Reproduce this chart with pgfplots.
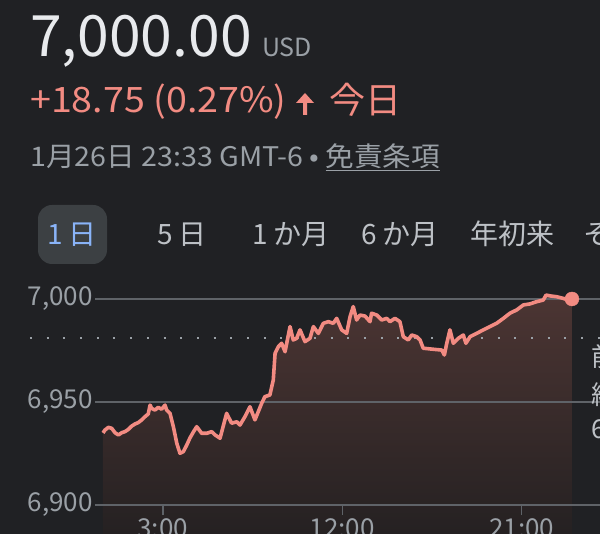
\documentclass[border=0pt]{standalone}
\usepackage{pgfplots}
\pgfplotsset{compat=1.18}
\usepackage{graphicx}
\usepackage{fontspec}
\setmainfont{Noto Sans CJK JP}

\definecolor{bg}{HTML}{202124}
\definecolor{txtwhite}{HTML}{E8EAED}
\definecolor{txtgrey}{HTML}{9AA0A6}
\definecolor{txtlight}{HTML}{BDC1C6}
\definecolor{salmon}{HTML}{F28B82}
\definecolor{tabblue}{HTML}{8AB4F8}
\definecolor{pill}{HTML}{3C4043}
\definecolor{gridc}{HTML}{5F6368}
\definecolor{fillTop}{HTML}{4C3533}
\definecolor{fillBot}{HTML}{252122}

\newcommand{\fs}[1]{\fontsize{#1}{#1}\selectfont}

% intraday prices, hours from 0:00
\pgfplotstableread{
t v
0.00 6935.0
0.10 6936.4
0.27 6937.7
0.44 6937.2
0.60 6935.1
0.77 6934.0
0.94 6935.1
1.10 6935.6
1.27 6936.7
1.44 6938.3
1.60 6939.3
1.77 6940.0
1.94 6941.3
2.11 6942.9
2.27 6944.2
2.36 6948.5
2.44 6946.9
2.61 6946.1
2.77 6947.4
2.94 6946.5
3.11 6948.5
3.19 6946.1
3.36 6944.5
3.53 6938.0
3.70 6930.0
3.86 6925.1
4.03 6925.9
4.20 6929.1
4.36 6932.5
4.53 6935.4
4.70 6938.0
4.95 6934.8
5.20 6934.8
5.45 6935.6
5.62 6934.0
5.87 6932.4
6.20 6944.5
6.45 6939.7
6.71 6940.4
6.87 6938.8
7.12 6942.9
7.37 6947.7
7.62 6941.3
7.96 6949.4
8.12 6952.6
8.37 6953.4
8.54 6960.7
8.63 6973.6
8.79 6976.8
8.96 6978.5
9.13 6974.4
9.38 6986.6
9.54 6980.1
9.71 6980.9
9.88 6985.0
10.13 6979.3
10.38 6980.9
10.55 6986.6
10.80 6983.3
11.05 6988.2
11.30 6989.0
11.55 6988.2
11.72 6990.6
11.97 6985.0
12.22 6983.3
12.39 6991.4
12.55 6996.3
12.72 6989.8
12.89 6992.2
13.14 6991.7
13.39 6989.0
13.47 6993.1
13.73 6992.2
13.98 6989.8
14.23 6990.6
14.39 6989.0
14.64 6990.6
14.89 6989.0
15.06 6981.7
15.31 6980.1
15.48 6982.5
15.73 6981.7
15.90 6980.1
16.06 6976.1
16.56 6975.6
16.99 6975.2
17.12 6972.8
17.24 6978.5
17.40 6985.0
17.57 6978.5
17.82 6980.9
18.07 6982.5
18.20 6978.5
18.41 6981.7
18.74 6983.3
19.07 6985.0
19.41 6986.6
19.74 6988.2
20.08 6990.6
20.41 6993.1
20.75 6994.7
21.08 6997.1
21.41 6997.6
21.75 6998.7
22.08 6999.5
22.22 7001.9
22.42 7001.5
22.75 7001.1
23.08 7000.3
23.33 6999.5
23.52 7000.0
}\prices

\begin{document}
\begin{tikzpicture}
\useasboundingbox (0pt,0pt) rectangle (600pt,534pt);
\clip (0pt,0pt) rectangle (600pt,534pt);
\fill[bg] (0pt,0pt) rectangle (600pt,534pt);

% header
\node[anchor=base west, inner sep=0pt, text=txtwhite] at (30pt,477pt) {\fs{57}7,000.00};
\node[anchor=base west, inner sep=0pt, text=txtgrey] at (262pt,477pt) {\fs{25}USD};
\node[anchor=base west, inner sep=0pt, text=salmon] at (30pt,421pt) {\scalebox{1.075}[1]{\fs{35}+18.75 (0.27\%)}};
\fill[salmon] (296pt,431pt) -- (305pt,441pt) -- (314pt,431pt) -- (307pt,431pt) -- (307pt,419pt)
  -- (303pt,419pt) -- (303pt,431pt) -- cycle;
\node[anchor=base west, inner sep=0pt, text=salmon] at (329pt,420pt) {\fs{36}今日};
\node[anchor=base west, inner sep=0pt, text=txtgrey] at (30pt,367pt)
  {\scalebox{1.06}[1]{\fs{27}1月26日 23:33 GMT-6 • \underline{免責条項}}};

% range tabs
\fill[pill, rounded corners=14pt] (38pt,270pt) rectangle (107pt,329pt);
\node[anchor=base, inner sep=0pt, text=tabblue] at (72pt,289pt) {\fs{28}1\,日};
\node[anchor=base, inner sep=0pt, text=txtlight] at (182pt,289pt) {\fs{28}5\,日};
\node[anchor=base, inner sep=0pt, text=txtlight] at (291pt,289pt) {\fs{28}1\,か月};
\node[anchor=base, inner sep=0pt, text=txtlight] at (400pt,289pt) {\fs{28}6\,か月};
\node[anchor=base, inner sep=0pt, text=txtlight] at (512pt,289pt) {\fs{28}年初来};
\node[anchor=base west, inner sep=0pt, text=txtlight] at (583pt,289pt) {\fs{28}その他};

\begin{axis}[
    at={(95pt,0pt)}, anchor=south west,
    scale only axis, width=505pt, height=254pt,
    xmin=-0.401, xmax=24.925,
    ymin=6885.92, ymax=7009.22,
    clip=false,
    axis line style={draw=none},
    xtick=\empty,
    ytick={6900,6950,7000},
    yticklabels={{6,900},{6,950},{7,000}},
    ytick style={draw=none},
    yticklabel style={font=\fs{26}, text=txtgrey, anchor=east, inner sep=0pt, xshift=-2pt},
]
    \addplot[draw=none, top color=fillTop, bottom color=fillBot] table[x=t, y=v] {\prices} \closedcycle;

    \draw[gridc, line width=1.5pt] (axis cs:-0.401,7000) -- (axis cs:24.925,7000);
    \draw[gridc, line width=1.5pt] (axis cs:-0.401,6950) -- (axis cs:24.925,6950);
    \draw[gridc, line width=1.5pt] (axis cs:-0.401,6900) -- (axis cs:24.925,6900);
    \draw[txtgrey, line width=2pt, dash pattern=on 2pt off 14.7pt]
        (axis cs:-3.661,6981.25) -- (axis cs:24.925,6981.25);

    \addplot[salmon, line width=3.6pt, line join=round] table[x=t, y=v] {\prices};
    \addplot[salmon, only marks, mark=*, mark size=7pt] coordinates {(23.52,7000.0)};

    % time ticks
    \draw[gridc, line width=1.5pt] (axis cs:3,6900) -- ++(0pt,-10pt);
    \draw[gridc, line width=1.5pt] (axis cs:12,6900) -- ++(0pt,-10pt);
    \draw[gridc, line width=1.5pt] (axis cs:21,6900) -- ++(0pt,-10pt);
    \node[anchor=north, inner sep=0pt, text=txtgrey, yshift=-13pt] at (axis cs:3,6900) {\fs{26}3:00};
    \node[anchor=north, inner sep=0pt, text=txtgrey, yshift=-13pt] at (axis cs:12,6900) {\fs{26}12:00};
    \node[anchor=north, inner sep=0pt, text=txtgrey, yshift=-13pt] at (axis cs:21,6900) {\fs{26}21:00};
\end{axis}

% previous close label, cut by the frame
\node[anchor=west, inner sep=0pt, text=txtlight] at (591pt,177pt) {\fs{26}前日};
\node[anchor=west, inner sep=0pt, text=txtlight] at (591pt,139pt) {\fs{26}終値};
\node[anchor=west, inner sep=0pt, text=txtlight] at (591pt,102pt) {\fs{26}6,981.25};
\end{tikzpicture}
\end{document}
